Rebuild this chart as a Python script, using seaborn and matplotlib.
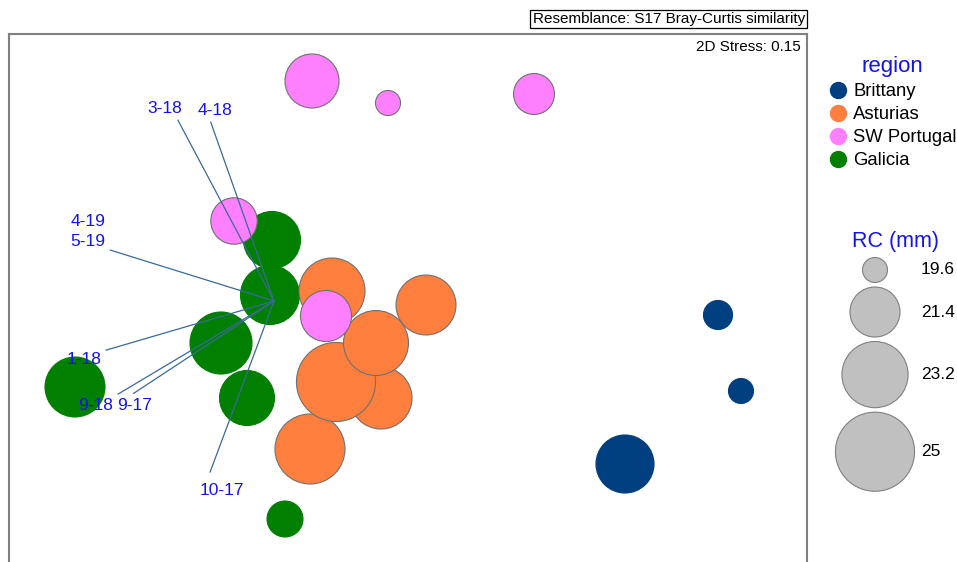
import numpy as np
import pandas as pd
import matplotlib
matplotlib.use("Agg")
import matplotlib.pyplot as plt
from matplotlib.lines import Line2D
import seaborn as sns

# nMDS coordinates, RC (mm) for the bubble size
region = ["Brittany", "Brittany", "Brittany",
          "Galicia", "Galicia", "Galicia", "Galicia", "Galicia", "Galicia",
          "Asturias", "Asturias", "Asturias", "Asturias", "Asturias", "Asturias",
          "SW Portugal", "SW Portugal", "SW Portugal", "SW Portugal", "SW Portugal"]
mds1 = [3.18, 3.41, 2.25,
        -1.28, -1.30, -1.79, -1.53, -3.25, -1.15,
        -0.68, 0.26, -0.19, -0.90, -0.64, -0.24,
        -0.88, -0.12, 1.34, -1.66, -0.74]
mds2 = [-0.15, -0.91, -1.64,
        0.60, 0.05, -0.43, -0.98, -0.87, -2.19,
        0.09, -0.05, -0.98, -1.49, -0.82, -0.43,
        2.19, 1.97, 2.06, 0.79, -0.16]
rc_mm = [19.81, 19.16, 22.23,
         22.12, 22.34, 22.69, 21.90, 22.45, 20.24,
         23.18, 22.45, 22.69, 23.70, 25.00, 23.05,
         21.80, 19.35, 20.61, 21.07, 21.50]

# sample labels that point at the same spot
sample_labels = ["3-18", "4-18", "4-19\n5-19", "1-18", "9-18", "9-17", "10-17"]
label_x = [-2.35, -1.85, -3.12, -3.16, -3.04, -2.65, -1.78]
label_y = [1.92, 1.90, 0.685, -0.59, -1.05, -1.05, -1.90]
label_target = (-1.26, -0.01)
label_relpos = [(0.8, 0), (0.33, 0), (1, 0), (1, 1), (0.97, 1), (0.28, 1), (0.22, 1.6)]

region_order = ["Brittany", "Asturias", "SW Portugal", "Galicia"]
palette = {"Brittany": "#003f7f", "Asturias": "#ff7f3f",
           "SW Portugal": "#ff80ff", "Galicia": "#007f00"}
edges = {"Brittany": "#003f7f", "Asturias": "#707070",
         "SW Portugal": "#707070", "Galicia": "#007f00"}

size_values = [19.6, 21.4, 23.2, 25]
size_range = (324, 3242)

df = pd.DataFrame({"MDS1": mds1, "MDS2": mds2, "region": region, "RC (mm)": rc_mm})

sns.set_theme(style="white")
plt.rcParams["font.family"] = ["Liberation Sans", "DejaVu Sans"]
plt.rcParams["text.color"] = "black"
blue = "#1414e6"

fig = plt.figure(figsize=(9.57, 5.62), dpi=100)
ax = fig.add_axes([9 / 957, 1 - 567 / 562, 798 / 957, 533 / 562])

sns.scatterplot(data=df, x="MDS1", y="MDS2", hue="region", palette=palette,
                size="RC (mm)", sizes=size_range, size_norm=(19.6, 25),
                linewidth=0.8, legend=False, ax=ax)
ax.collections[0].set_edgecolors([edges[r] for r in region])

for txt, lx, ly, rp in zip(sample_labels, label_x, label_y, label_relpos):
    ax.annotate(txt, xy=label_target, xytext=(lx, ly), ha="center", va="center",
                color=blue, fontsize=12.5, linespacing=1.35,
                arrowprops=dict(arrowstyle="-", color="#3a6a98", lw=0.9,
                                relpos=rp, shrinkA=1, shrinkB=0))

ax.set_xlim(-3.91, 4.07)
ax.set_ylim(-2.67, 2.66)
ax.set_xticks([])
ax.set_yticks([])
ax.set_xlabel("")
ax.set_ylabel("")
for sp in ax.spines.values():
    sp.set_color("#808080")
    sp.set_linewidth(1.5)

ax.text(0.992, 0.975, "2D Stress: 0.15", transform=ax.transAxes, ha="right", va="center",
        fontsize=11, color="black")
fig.text(805 / 957, 1 - 19 / 562, "Resemblance: S17 Bray-Curtis similarity",
         ha="right", va="center", fontsize=11,
         bbox=dict(boxstyle="square,pad=0.15", fc="white", ec="black", lw=0.9))

# region legend
handles = [Line2D([], [], marker="o", linestyle="", markersize=11.5,
                  markerfacecolor=palette[r], markeredgecolor=palette[r]) for r in region_order]
leg = fig.legend(handles, region_order, loc="upper left",
                 bbox_to_anchor=(829 / 957, 1 - 56 / 562), frameon=False,
                 fontsize=13.3, title="region", title_fontsize=16,
                 handletextpad=0.3, handlelength=1.0, labelspacing=0.33,
                 borderaxespad=0, borderpad=0, labelcolor="black")
leg.get_title().set_color(blue)

# RC size legend
lax = fig.add_axes([820 / 957, 1 - 500 / 562, 137 / 957, 270 / 562])
lax.set_xlim(820, 957)
lax.set_ylim(500, 230)
lax.axis("off")
s_vals = size_range[0] + (np.array(size_values) - 19.6) / (25 - 19.6) * (size_range[1] - size_range[0])
radius_px = np.sqrt(s_vals) / 2 / 0.72
centers = []
top = 257.5
for r in radius_px:
    centers.append(top + r)
    top += 2 * r + 4.5
sns.scatterplot(x=[875] * len(size_values), y=centers, size=size_values,
                sizes=size_range, size_norm=(19.6, 25), color="#c0c0c0",
                edgecolor="#808080", linewidth=0.8, legend=False, ax=lax)
for v, cy in zip(size_values, centers):
    lax.text(921, cy, f"{v:g}", ha="left", va="center", fontsize=12.5, color="black")
lax.text(895, 242, "RC (mm)", ha="center", va="center", fontsize=15.5, color=blue)

fig.savefig("out.png", dpi=100)
